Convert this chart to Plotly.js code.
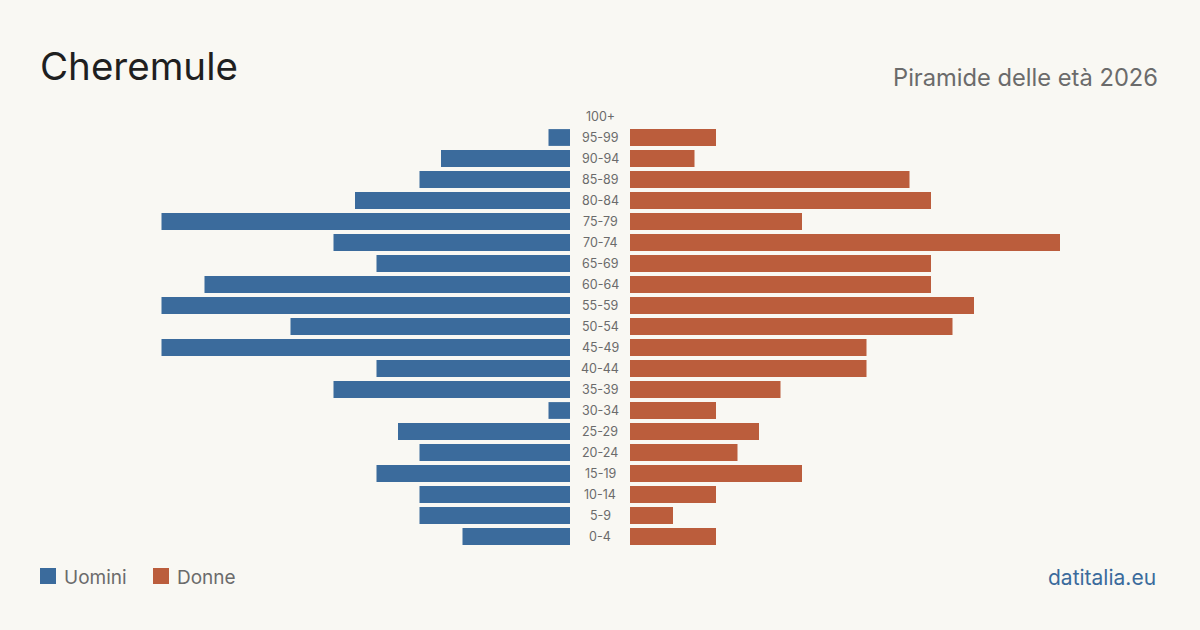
<!DOCTYPE html>
<html>
<head>
<meta charset="utf-8">
<script src="https://cdn.plot.ly/plotly-3.0.1.min.js"></script>
<style>
html,body{margin:0;padding:0;background:#f9f8f3;}
#chart{width:1200px;height:630px;}
</style>
</head>
<body>
<div id="chart"></div>
<script>
const ageGroups = ["0-4","5-9","10-14","15-19","20-24","25-29","30-34","35-39","40-44","45-49","50-54","55-59","60-64","65-69","70-74","75-79","80-84","85-89","90-94","95-99","100+"];
const uomini = [5,7,7,9,7,8,1,11,9,19,13,19,17,9,11,19,10,7,6,1,0];
const donne  = [4,2,4,8,5,6,4,7,11,11,15,16,14,14,20,8,14,13,3,4,0];
const chartTitle = "Cheremule";
const chartSubtitle = "Piramide delle età 2026";
const seriesNames = ["Uomini","Donne"];
const sourceLabel = "datitalia.eu";

const blue = "#3b6b9c";
const orange = "#bb5d3c";
const bg = "#f9f8f3";
const font = "Inter, 'Noto Sans', sans-serif";
const R = 20;
const W = 1200, H = 630, MT = 106, MB = 83;
const PH = H - MT - MB;
// convert page pixel coords to paper coords (paper y spans the plot area)
const px = v => v / W;
const py = v => (H - MB - v) / PH;

const traces = [
  {type:"bar", orientation:"h", y:ageGroups, x:uomini, name:seriesNames[0],
   xaxis:"x", yaxis:"y", marker:{color:blue}, width:0.8, hoverinfo:"x+y", showlegend:false},
  {type:"bar", orientation:"h", y:ageGroups, x:donne, name:seriesNames[1],
   xaxis:"x2", yaxis:"y2", marker:{color:orange}, width:0.8, hoverinfo:"x+y", showlegend:false}
];

const annotations = ageGroups.map(g => ({
  xref:"paper", yref:"y", x:0.5, y:g, text:g, showarrow:false,
  xanchor:"center", yanchor:"middle",
  font:{family:font, size:12.5, color:"#6b6b6b"}
}));

annotations.push(
  {xref:"paper", yref:"paper", x:px(38), y:py(66), text:chartTitle, showarrow:false,
   xanchor:"left", yanchor:"middle", font:{family:font, size:38.5, color:"#1f1f1f"}},
  {xref:"paper", yref:"paper", x:px(1160), y:py(77), text:chartSubtitle, showarrow:false,
   xanchor:"right", yanchor:"middle", font:{family:font, size:23.7, color:"#6b6b6b"}},
  {xref:"paper", yref:"paper", x:px(62), y:py(577), text:seriesNames[0], showarrow:false,
   xanchor:"left", yanchor:"middle", font:{family:font, size:19, color:"#6b6b6b"}},
  {xref:"paper", yref:"paper", x:px(175), y:py(577), text:seriesNames[1], showarrow:false,
   xanchor:"left", yanchor:"middle", font:{family:font, size:19, color:"#6b6b6b"}},
  {xref:"paper", yref:"paper", x:px(1158), y:py(577), text:sourceLabel, showarrow:false,
   xanchor:"right", yanchor:"middle", font:{family:font, size:21, color:"#3b6b9c"}}
);

const shapes = [
  {type:"rect", xref:"paper", yref:"paper", x0:px(40), x1:px(56), y0:py(584), y1:py(568),
   fillcolor:blue, line:{width:0}},
  {type:"rect", xref:"paper", yref:"paper", x0:px(153), x1:px(169), y0:py(584), y1:py(568),
   fillcolor:orange, line:{width:0}}
];

const layout = {
  width:W, height:H,
  paper_bgcolor:bg, plot_bgcolor:bg,
  margin:{l:0, r:0, t:MT, b:MB},
  showlegend:false,
  xaxis:{domain:[140/W, 570/W], range:[R,0], visible:false, fixedrange:true},
  xaxis2:{domain:[630/W, 1060/W], range:[0,R], visible:false, fixedrange:true},
  yaxis:{type:"category", categoryorder:"array", categoryarray:ageGroups, visible:false,
         range:[-0.5, ageGroups.length-0.5], anchor:"x"},
  yaxis2:{type:"category", categoryorder:"array", categoryarray:ageGroups, visible:false,
          range:[-0.5, ageGroups.length-0.5], anchor:"x2", matches:"y"},
  annotations:annotations,
  shapes:shapes,
  font:{family:font}
};

Plotly.newPlot("chart", traces, layout, {displayModeBar:false, staticPlot:true});
</script>
</body>
</html>
